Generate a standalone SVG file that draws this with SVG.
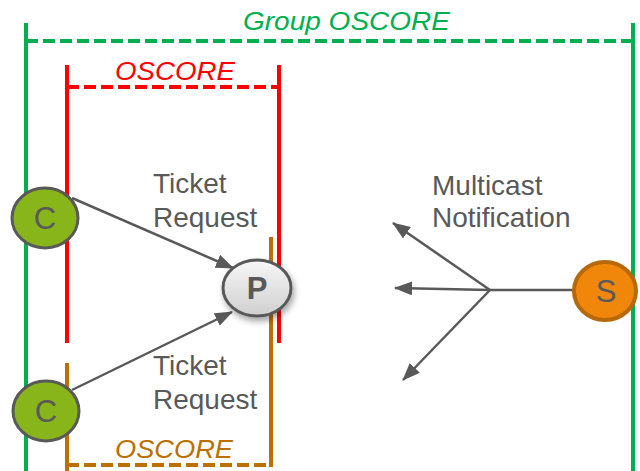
<svg xmlns="http://www.w3.org/2000/svg" width="640" height="471" viewBox="0 0 640 471">
<style>
.lbl{font-family:"Liberation Sans",Arial,sans-serif;font-size:28px;fill:#595959}
.it{font-family:"Liberation Sans",Arial,sans-serif;font-size:25px;font-style:italic}
.frame{fill:none;stroke-width:4}
.dash{stroke-dasharray:12 5}
.conn{fill:none;stroke:#595959;stroke-width:2.5}
.node{stroke-width:3}
.nt{font-family:"Liberation Sans",Arial,sans-serif;font-size:31px;fill:#595959;text-anchor:middle}
</style>
<defs>
<marker id="ah" viewBox="0 0 18 14" refX="17" refY="7" markerWidth="18" markerHeight="14" markerUnits="userSpaceOnUse" orient="auto">
<path d="M0,0 L18,7 L0,14 z" fill="#595959"/>
</marker>
<linearGradient id="pg" x1="0" y1="0" x2="0" y2="1">
<stop offset="0" stop-color="#f7f7f7"/>
<stop offset="1" stop-color="#cfcfcf"/>
</linearGradient>
<filter id="sh" x="-30%" y="-30%" width="160%" height="170%">
<feDropShadow dx="2" dy="4" stdDeviation="3" flood-color="#000" flood-opacity="0.35"/>
</filter>
</defs>

<g id="group-oscore">
<path class="frame" stroke="#00b050" d="M26,23 V471 M633,23 V471"/>
<path class="frame dash" stroke="#00b050" d="M26,41 H633"/>
<text class="it" fill="#00b050" x="243" y="30" textLength="207" lengthAdjust="spacingAndGlyphs">Group OSCORE</text>
</g>

<g id="oscore-red">
<path class="frame" stroke="#ff0000" d="M67,65 V343 M279,65 V343"/>
<path class="frame dash" stroke="#ff0000" d="M67,87 H279"/>
<text class="it" fill="#ff0000" x="115" y="80" textLength="120" lengthAdjust="spacingAndGlyphs">OSCORE</text>
</g>

<g id="oscore-brown">
<path class="frame" stroke="#bc7000" d="M67,363 V471 M271,237 V467"/>
<path class="frame dash" stroke="#bc7000" d="M67,465 H271"/>
<text class="it" fill="#bc7000" x="115" y="458" textLength="118" lengthAdjust="spacingAndGlyphs">OSCORE</text>
</g>

<g id="connectors">
<line class="conn" x1="72" y1="198" x2="233" y2="268" marker-end="url(#ah)"/>
<line class="conn" x1="72" y1="390" x2="232" y2="312" marker-end="url(#ah)"/>
<line class="conn" x1="574" y1="290" x2="490" y2="290"/>
<line class="conn" x1="490" y1="290" x2="393" y2="223" marker-end="url(#ah)"/>
<line class="conn" x1="490" y1="290" x2="395" y2="288" marker-end="url(#ah)"/>
<line class="conn" x1="490" y1="290" x2="403" y2="380" marker-end="url(#ah)"/>
</g>

<g id="labels">
<text class="lbl" x="153" y="193">Ticket</text>
<text class="lbl" x="153" y="227">Request</text>
<text class="lbl" x="153" y="375">Ticket</text>
<text class="lbl" x="153" y="409">Request</text>
<text class="lbl" x="432" y="195">Multicast</text>
<text class="lbl" x="432" y="227">Notification</text>
</g>

<g id="node-c1">
<ellipse class="node" cx="45" cy="218" rx="33" ry="30" fill="#88b51a" stroke="#595959"/>
<text class="nt" x="45" y="229">C</text>
</g>
<g id="node-c2">
<ellipse class="node" cx="46" cy="411" rx="33" ry="30" fill="#88b51a" stroke="#595959"/>
<text class="nt" x="46" y="422">C</text>
</g>
<g id="node-p">
<ellipse class="node" cx="257" cy="288" rx="34" ry="28" fill="url(#pg)" stroke="#595959" filter="url(#sh)"/>
<text class="nt" x="257" y="299" font-weight="bold" font-size="29">P</text>
</g>
<g id="node-s">
<ellipse cx="605" cy="291" rx="31" ry="29" fill="#f0870a" stroke="#b5690a" stroke-width="4"/>
<text class="nt" x="606" y="302">S</text>
</g>
</svg>
